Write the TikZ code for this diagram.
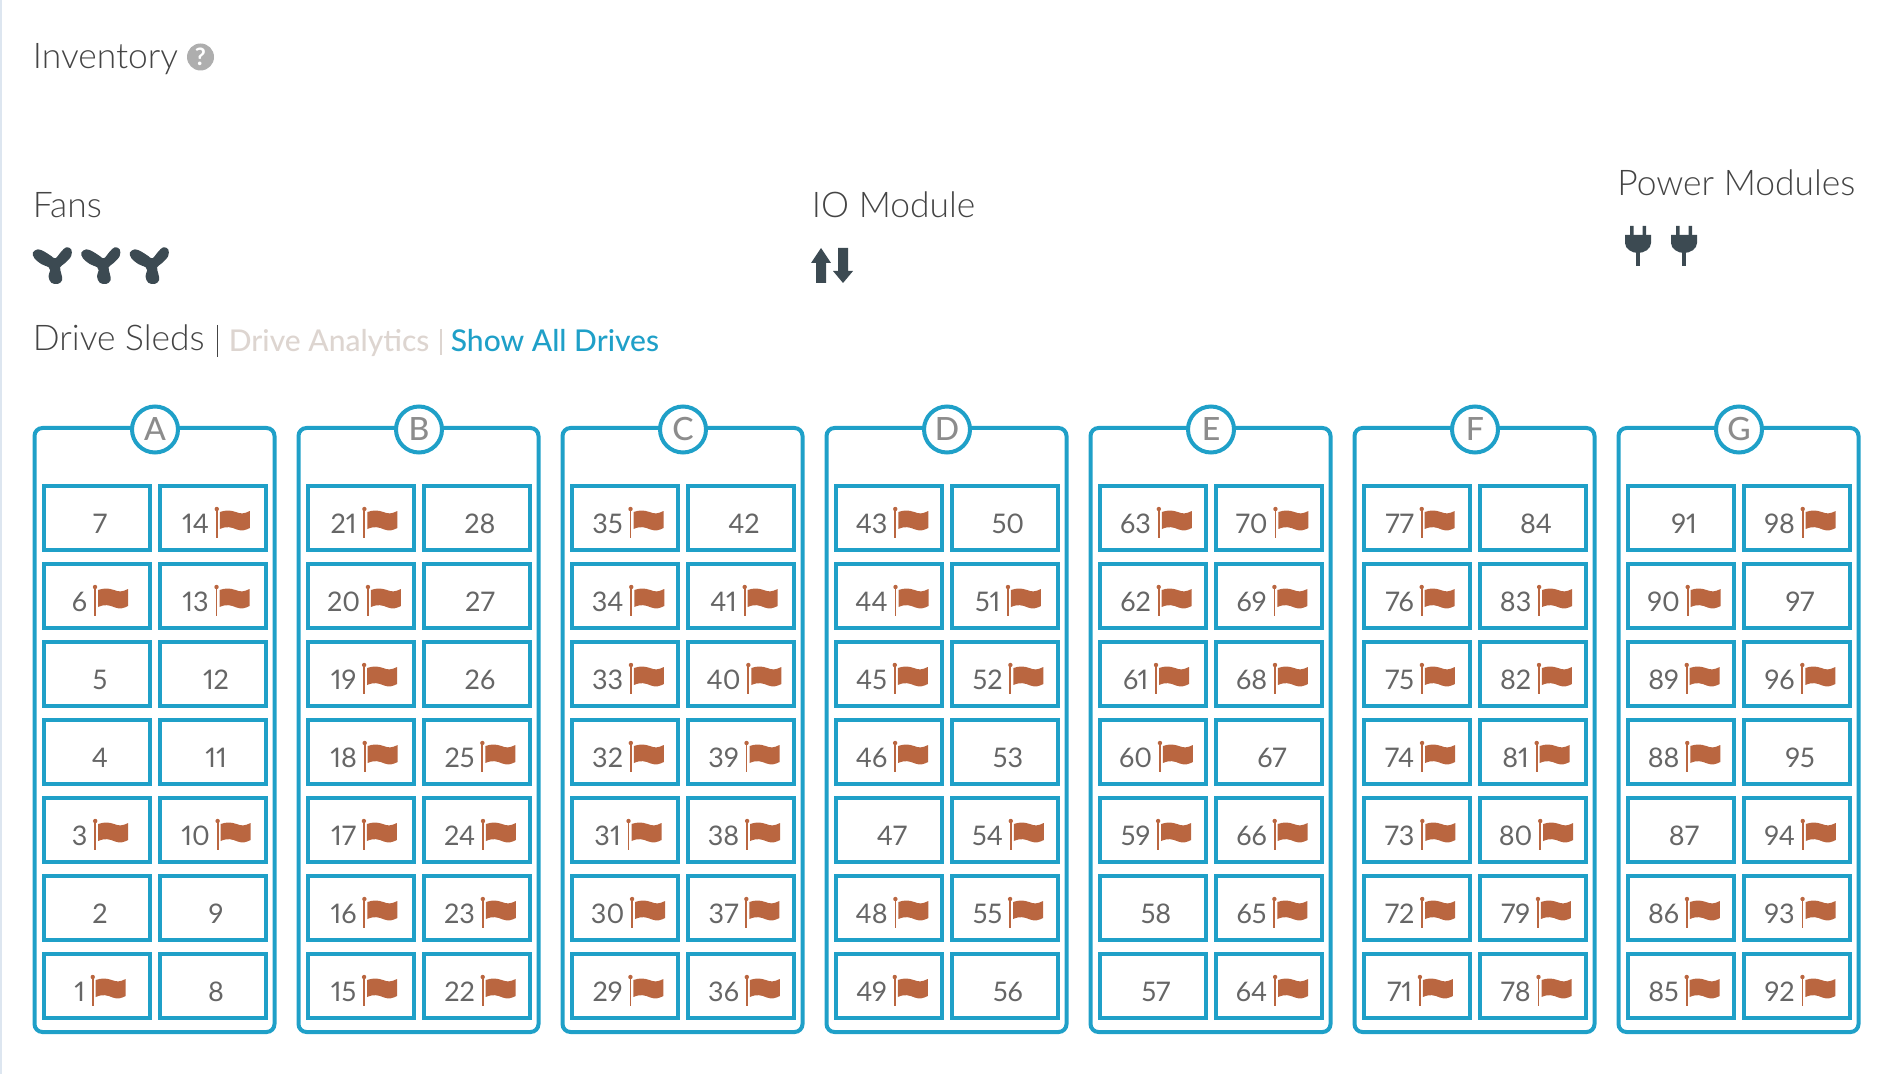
\documentclass[tikz,border=0pt]{standalone}
\usepackage{fontspec}
\setmainfont{Lato}[Numbers=Proportional]
\newfontfamily\thinfont{Lato Light}
\newfontfamily\midfont{Lato Medium}
\usetikzlibrary{calc,positioning}
\definecolor{sledblue}{HTML}{1FA0C8}
\definecolor{iconslate}{HTML}{3C4A52}
\definecolor{flagrust}{HTML}{BA6640}
\definecolor{numgrey}{HTML}{666666}
\definecolor{lettergrey}{HTML}{8C8C8C}
\definecolor{titlegrey}{HTML}{444444}
\definecolor{fadedtan}{HTML}{DDD5D0}
\definecolor{edgeblue}{HTML}{DDE6F0}
\tikzset{
    sledbox/.style={draw=sledblue,line width=2pt,rounded corners=4pt},
    drivecell/.style={draw=sledblue,line width=2pt,inner sep=0pt,minimum width=53pt,minimum height=32pt,
        font=\fontsize{13.5}{14}\selectfont,text=numgrey},
    sledtag/.style={circle,draw=sledblue,fill=white,line width=2pt,inner sep=0pt,minimum size=23pt,
        font=\midfont\fontsize{16}{16}\selectfont,text=lettergrey},
    headtext/.style={anchor=base west,inner sep=0pt,font=\thinfont\fontsize{17.7}{18}\selectfont,text=titlegrey},
    linktext/.style={anchor=base west,inner sep=0pt,font=\midfont\fontsize{15}{15}\selectfont}
}
% flagged drives
\def\flaggedlist{,14,6,13,3,10,1,21,20,19,18,25,17,24,16,23,15,22,35,34,41,33,40,32,39,31,38,30,37,29,36,%
43,44,51,45,52,46,54,48,55,49,63,70,62,69,61,68,60,59,66,65,64,77,76,83,75,82,74,81,73,80,72,79,71,78,%
98,90,89,96,88,94,86,93,85,92,}
\makeatletter
\newcommand{\drivelabel}[1]{%
    \edef\drivetest{\noexpand\in@{,#1,}{\flaggedlist}}\drivetest
    \raisebox{-7.5pt}[0pt][0pt]{\ifin@\hspace{3pt}#1\hspace{2.8pt}\flagicon\else\hspace{3pt}#1\fi}}
\makeatother
\newcommand{\flagicon}{\tikz[baseline=0pt,x=0.5pt,y=0.5pt]{
    \fill[flagrust] (-0.9,-5) rectangle (0.9,24);
    \fill[flagrust] (0,24) circle (2.2);
    \fill[flagrust] (3,4) .. controls (10,7) and (14,6) .. (20,3.5)
        .. controls (25,1.5) and (29,3) .. (33,5) -- (33,22)
        .. controls (27,19) and (24,19) .. (19,21)
        .. controls (13,23) and (9,23) .. (3,21) -- cycle;
}}
\begin{document}
\begin{tikzpicture}[x=0.5pt,y=-0.5pt]
    \useasboundingbox (0,0) rectangle (1898,1074);
    \fill[edgeblue] (0,0) rectangle (2,1074);

    % page titles
    \node[headtext] (inventory) at (32.5,69) {Inventory};
    \fill[lettergrey!70] (200.5,57) circle (13.5);
    \node[inner sep=0pt,text=white,font=\bfseries\fontsize{12}{12}\selectfont] (helpmark) at (200.5,57) {?};
    \node[headtext] (fans) at (32.5,218) {Fans};
    \node[headtext] (iomodule) at (811.5,218) {IO Module};
    \node[headtext] (power) at (1617,196) {Power Modules};

    % fans
    \foreach \x in {54.5,103,151.5} {
        \fill[iconslate,shift={(\x,264)}] plot[smooth cycle,tension=0.6] coordinates {
            (-5.7,3.3) (-13.3,0) (-20,-5.7) (-21.7,-11.3) (-16.7,-14.7) (-10,-12.3) (-3.3,-8) (1,-5.7)
            (6.7,-12.3) (11.7,-16.7) (16.7,-14.7) (16.7,-8) (11,-1.3) (5.7,3.3)
            (6.7,9.3) (7.7,16) (3.3,20) (-3.3,18.7) (-6,12.3) (-4.3,6.3)};
    }

    % io arrows
    \fill[iconslate] (821,248) -- (831,263) -- (826,263) -- (826,283) -- (816,283) -- (816,263) -- (811,263) -- cycle;
    \fill[iconslate] (843,283) -- (833,271) -- (838,271) -- (838,248) -- (848,248) -- (848,271) -- (853,271) -- cycle;

    % plugs
    \foreach \x in {1638,1684} {
        \fill[iconslate,shift={(\x,226)}] (-8,0) rectangle (-4.5,9) (4.5,0) rectangle (8,9);
        \fill[iconslate,shift={(\x,226)}] (-2,25) rectangle (2,40);
        \fill[iconslate,shift={(\x,226)}] (-13,9) -- (13,9) -- (13,17)
            .. controls (13,23) and (6,27) .. (0,27)
            .. controls (-6,27) and (-13,23) .. (-13,17) -- cycle;
    }

    % sled header
    \node[headtext] (sleds) at (32.5,351) {Drive Sleds};
    \draw[titlegrey,line width=0.5pt] (217.5,325) -- (217.5,357);
    \node[linktext,text=fadedtan] (analytics) at (228.5,351.5) {Drive Analytics};
    \draw[fadedtan,line width=0.7pt] (441,329) -- (441,355);
    \node[linktext,text=sledblue] (showall) at (450.5,351.5) {Show All Drives};

    % sleds: letter / first number col 1 / step / first number col 2
    \foreach \i/\lab/\top/\stp/\toptwo in {0/A/7/-1/14,1/B/21/-1/28,2/C/35/-1/42,3/D/43/1/50,4/E/63/-1/70,5/F/77/-1/84,6/G/91/-1/98} {
        \pgfmathsetmacro{\sx}{34.5+264*\i}
        \draw[sledbox] (\sx,428) rectangle ++(240,604);
        \node[sledtag] (tag\lab) at (\sx+120.5,429.5) {\lab};
        \foreach \r in {0,...,6} {
            \pgfmathtruncatemacro{\numa}{\top+\stp*\r}
            \pgfmathtruncatemacro{\numb}{\toptwo+\stp*\r}
            \node[drivecell] (drive\numa) at (\sx+62.5,518+78*\r) {\drivelabel{\numa}};
            \node[drivecell] (drive\numb) at (\sx+178.5,518+78*\r) {\drivelabel{\numb}};
        }
    }
\end{tikzpicture}
\end{document}
